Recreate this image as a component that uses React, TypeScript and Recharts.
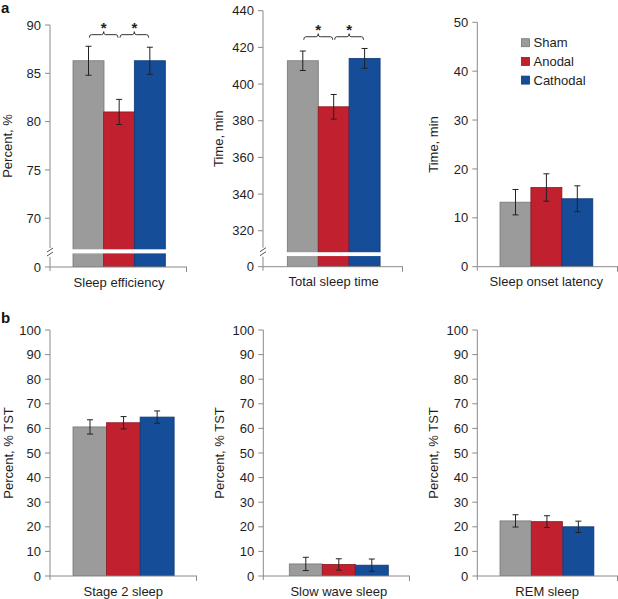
import React from 'react';
import { BarChart, Bar, XAxis, YAxis, ErrorBar, ReferenceLine, Legend } from 'recharts';

// ---------- data ----------
const groups = ['Sham', 'Anodal', 'Cathodal'];
const groupColors = ['#9b9b9b', '#c1202f', '#164d99'];
const groupEdges = ['#777777', '#8f1822', '#0e3a76'];

const efficiencyMean = [86.3, 81.0, 86.3];
const efficiencyErr = [1.5, 1.3, 1.4];
const totalSleepMean = [412.7, 387.6, 414.0];
const totalSleepErr = [5.3, 6.7, 5.4];
const onsetMean = [13.2, 16.2, 13.9];
const onsetErr = [2.6, 2.8, 2.65];
const stage2Mean = [60.6, 62.3, 64.6];
const stage2Err = [2.9, 2.5, 2.5];
const swsMean = [4.9, 4.7, 4.4];
const swsErr = [2.7, 2.3, 2.5];
const remMean = [22.4, 22.1, 20.0];
const remErr = [2.5, 2.4, 2.3];

// broken axes: the bottom value stands for 0
const efficiencyBreakBase = 64.95;
const efficiencyGap: [number, number] = [66.36, 66.78];
const efficiencyTicks = [efficiencyBreakBase, 70, 75, 80, 85, 90];
const totalSleepBreakBase = 300.4;
const totalSleepGap: [number, number] = [306.2, 308.3];
const totalSleepTicks = [totalSleepBreakBase, 320, 340, 360, 380, 400, 420, 440];
const onsetTicks = [0, 10, 20, 30, 40, 50];
const percentTicks = [0, 10, 20, 30, 40, 50, 60, 70, 80, 90, 100];

const sigPairs: [string, string][] = [['Sham', 'Anodal'], ['Anodal', 'Cathodal']];
const efficiencySigY = 89.0;
const totalSleepSigY = 425.8;

// ---------- styling ----------
const FONT = '"Liberation Sans", Arial, Helvetica, sans-serif';
const AXIS = '#8a8a8a';
const TEXT = '#1e1e1e';
const TICK_SIZE = 5;
const TICK_MARGIN = 4;

const makeData = (means: number[], errs: number[]) =>
  groups.map((g, i) => ({ group: g, v: means[i], e: errs[i] }));

const makeShape = (base?: number, gap?: [number, number]) => (props: any) => {
  const { x, y, width, height, index, payload } = props;
  const els: React.ReactNode[] = [
    <rect key="b" x={x} y={y} width={width} height={height} fill={groupColors[index]} stroke={groupEdges[index]} strokeWidth={0.8} />,
  ];
  if (base !== undefined && gap) {
    const ppu = height / (payload.v - base);
    const bottom = y + height;
    const yHi = bottom - (gap[1] - base) * ppu;
    const yLo = bottom - (gap[0] - base) * ppu;
    els.push(<rect key="g" x={x - 1} y={yHi} width={width + 2} height={yLo - yHi} fill="#ffffff" />);
  }
  return <g>{els}</g>;
};

const makeTick = (base?: number) => (props: any) => {
  const { x, y, payload } = props;
  const isBase = base !== undefined && payload.value === base;
  const ax = x + TICK_SIZE + TICK_MARGIN;
  return (
    <g>
      {isBase && (
        <g>
          <rect x={ax - 2} y={y - 19} width={4} height={9} fill="#ffffff" />
          <line x1={ax - 3} y1={y - 11} x2={ax + 3} y2={y - 15} stroke="#555" strokeWidth={1} />
          <line x1={ax - 3} y1={y - 15} x2={ax + 3} y2={y - 19} stroke="#555" strokeWidth={1} />
        </g>
      )}
      <text x={x} y={y} dy="0.355em" textAnchor="end" fontSize={13} fill={TEXT} fontFamily={FONT}>
        {isBase ? '0' : payload.value}
      </text>
    </g>
  );
};

const BracketLabel = (props: any) => {
  const vb = props.viewBox;
  if (!vb) return null;
  const x1 = vb.x + 1;
  const x2 = vb.x + vb.width - 1;
  const y = vb.y;
  const mid = (x1 + x2) / 2;
  const d = `M${x1},${y + 3} Q${x1},${y} ${x1 + 2},${y} L${mid - 2},${y} Q${mid},${y} ${mid},${y - 3} Q${mid},${y} ${mid + 2},${y} L${x2 - 2},${y} Q${x2},${y} ${x2},${y + 3}`;
  return (
    <g>
      <path d={d} fill="none" stroke="#333" strokeWidth={1} />
      <text x={mid} y={y - 1.5} textAnchor="middle" fontSize={15} fontWeight="bold" fill={TEXT} fontFamily={FONT}>*</text>
    </g>
  );
};

const LegendBox = () => (
  <svg width={100} height={60} style={{ display: 'block' }}>
    {groups.map((g, i) => {
      const cy = 9.7 + i * 18.7;
      return (
        <g key={g}>
          <rect x={1.5} y={cy - 4} width={8} height={8} fill={groupColors[i]} stroke={groupEdges[i]} strokeWidth={0.8} />
          <text x={13.5} y={cy + 4.6} fontSize={13} fill={TEXT} fontFamily={FONT}>{g}</text>
        </g>
      );
    })}
  </svg>
);

type PanelProps = {
  left: number; top: number; width: number; height: number;
  means: number[]; errs: number[];
  yWidth: number; mTop: number; mRight: number; xHeight: number;
  padL: number; padR: number;
  domain: [number, number]; ticks: number[];
  yLabel: string; yLabelX: number; xLabel: string;
  breakBase?: number; gap?: [number, number];
  sigY?: number;
  legend?: boolean;
};

const Panel = (p: PanelProps) => {
  const data = makeData(p.means, p.errs);
  return (
    <div style={{ position: 'absolute', left: p.left, top: p.top, width: p.width, height: p.height }}>
      <BarChart
        width={p.width}
        height={p.height}
        data={data}
        margin={{ top: p.mTop, right: p.mRight, bottom: 0, left: 0 }}
        barCategoryGap={0}
        barGap={0}
      >
        <XAxis
          dataKey="group"
          type="category"
          height={p.xHeight}
          tick={false}
          tickLine={false}
          axisLine={{ stroke: AXIS }}
          padding={{ left: p.padL, right: p.padR }}
          label={(lp: any) => {
            const vb = lp.viewBox;
            const cx = vb.x + p.padL + (vb.width - p.padL - p.padR) / 2;
            const endX = vb.x + vb.width - 0.5;
            return (
              <g>
                <line x1={vb.x} y1={vb.y} x2={vb.x} y2={vb.y + 4} stroke={AXIS} strokeWidth={1} />
                <line x1={endX} y1={vb.y} x2={endX} y2={vb.y + 5} stroke={AXIS} strokeWidth={1} />
                <text x={cx} y={vb.y + 19.5} textAnchor="middle" fontSize={13} fill={TEXT} fontFamily={FONT}>
                  {p.xLabel}
                </text>
              </g>
            );
          }}
        />
        <YAxis
          type="number"
          width={p.yWidth}
          domain={p.domain}
          ticks={p.ticks}
          interval={0}
          allowDataOverflow
          stroke={AXIS}
          tickSize={TICK_SIZE}
          tickMargin={TICK_MARGIN}
          tick={makeTick(p.breakBase)}
          label={(lp: any) => {
            const vb = lp.viewBox;
            const cy = vb.y + vb.height / 2;
            return (
              <text x={p.yLabelX} y={cy} transform={`rotate(-90, ${p.yLabelX}, ${cy})`} textAnchor="middle" fontSize={13} fill={TEXT} fontFamily={FONT}>
                {p.yLabel}
              </text>
            );
          }}
        />
        <Bar dataKey="v" isAnimationActive={false} shape={makeShape(p.breakBase, p.gap)}>
          <ErrorBar dataKey="e" width={3} stroke="#222" strokeWidth={1} direction="y" isAnimationActive={false} />
        </Bar>
        {p.sigY !== undefined &&
          sigPairs.map(([a, b]) => (
            <ReferenceLine
              key={a + b}
              segment={[{ x: a, y: p.sigY as number }, { x: b, y: p.sigY as number }]}
              stroke="none"
              strokeWidth={0}
              label={<BracketLabel />}
            />
          ))}
        {p.legend && (
          <Legend
            layout="vertical"
            align="center"
            verticalAlign="middle"
            wrapperStyle={{ left: 110, top: 33, width: 100, height: 60 }}
            content={() => <LegendBox />}
          />
        )}
      </BarChart>
    </div>
  );
};

export default function App() {
  return (
    <div style={{ position: 'absolute', left: 0, top: 0, width: 618, height: 599, background: '#fff', fontFamily: FONT, overflow: 'hidden' }}>
      <span style={{ position: 'absolute', left: 1, top: 0, fontSize: 15, lineHeight: '15px', fontWeight: 'bold', color: '#111' }}>a</span>
      <span style={{ position: 'absolute', left: 1, top: 310, fontSize: 15, lineHeight: '15px', fontWeight: 'bold', color: '#111' }}>b</span>

      <Panel left={0} top={0} width={200} height={300} means={efficiencyMean} errs={efficiencyErr}
        yWidth={50} mTop={25} mRight={13} xHeight={33} padL={23} padR={22}
        domain={[efficiencyBreakBase, 90]} ticks={efficiencyTicks}
        yLabel="Percent, %" yLabelX={12} xLabel="Sleep efficiency"
        breakBase={efficiencyBreakBase} gap={efficiencyGap} sigY={efficiencySigY} />

      <Panel left={200} top={0} width={210} height={300} means={totalSleepMean} errs={totalSleepErr}
        yWidth={63} mTop={10.7} mRight={7} xHeight={33.3} padL={24.3} padR={23}
        domain={[totalSleepBreakBase, 440]} ticks={totalSleepTicks}
        yLabel="Time, min" yLabelX={23.5} xLabel="Total sleep time"
        breakBase={totalSleepBreakBase} gap={totalSleepGap} sigY={totalSleepSigY} />

      <Panel left={410} top={0} width={208} height={300} means={onsetMean} errs={onsetErr}
        yWidth={67.3} mTop={22.3} mRight={0} xHeight={33.3} padL={22.7} padR={25.3}
        domain={[0, 50]} ticks={onsetTicks}
        yLabel="Time, min" yLabelX={27.5} xLabel="Sleep onset latency" legend />

      <Panel left={0} top={300} width={200} height={299} means={stage2Mean} errs={stage2Err}
        yWidth={50} mTop={30} mRight={3} xHeight={23} padL={23} padR={23.3}
        domain={[0, 100]} ticks={percentTicks}
        yLabel="Percent, % TST" yLabelX={12.5} xLabel="Stage 2 sleep" />

      <Panel left={200} top={300} width={210} height={299} means={swsMean} errs={swsErr}
        yWidth={63.3} mTop={30} mRight={0} xHeight={23} padL={26} padR={21.7}
        domain={[0, 100]} ticks={percentTicks}
        yLabel="Percent, % TST" yLabelX={24} xLabel="Slow wave sleep" />

      <Panel left={410} top={300} width={208} height={299} means={remMean} errs={remErr}
        yWidth={67.3} mTop={30} mRight={0} xHeight={23} padL={22.7} padR={23.7}
        domain={[0, 100]} ticks={percentTicks}
        yLabel="Percent, % TST" yLabelX={27.5} xLabel="REM sleep" />
    </div>
  );
}
